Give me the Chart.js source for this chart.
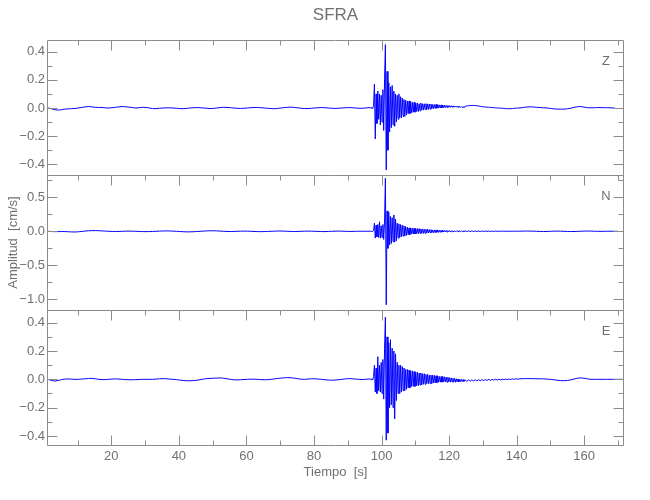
<!DOCTYPE html>
<html>
<head>
<meta charset="utf-8">
<script src="https://cdn.jsdelivr.net/npm/chart.js@4.4.1/dist/chart.umd.min.js"></script>
<style>
  html, body { margin: 0; padding: 0; background: #fff; }
  #lienzo { position: relative; width: 650px; height: 500px; }
  #lienzo canvas { position: absolute; left: 0; top: 0; }
</style>
</head>
<body>
<div id="lienzo">
  <canvas id="chartZ" width="650" height="500"></canvas>
  <canvas id="chartN" width="650" height="500"></canvas>
  <canvas id="chartE" width="650" height="500"></canvas>
</div>
<script>
// tramos de muestreo: inicio y paso (s) de cada bloque de valores
const tramos = [
  { inicio: 1.25, paso: 1 },     // ruido previo
  { inicio: 96.65, paso: 0.25 }, // llegada de ondas
  { inicio: 124.75, paso: 0.5 }, // coda
  { inicio: 141, paso: 1 }       // final
];

// componente Z (cm/s)
const zPre = [
  0, -0.005, -0.012, -0.015, -0.012, -0.008, -0.006, -0.005, -0.003, 0,
  0.004, 0.008, 0.01, 0.008, 0.005, 0.004, 0.003, 0.001, 0, 0.002,
  0.005, 0.008, 0.01, 0.009, 0.006, 0.003, 0, 0.002, 0.005, 0.004,
  0, -0.004, -0.005, -0.002, 0, 0.001, 0.001, 0, -0.002, -0.004,
  -0.005, -0.003, 0, 0.002, 0.003, 0.002, 0, -0.002, -0.004, -0.003,
  0, 0.003, 0.005, 0.004, 0.002, 0, -0.002, -0.003, -0.002, 0,
  0.002, 0.004, 0.004, 0.002, 0, -0.002, -0.004, -0.005, -0.003, 0,
  0.003, 0.005, 0.006, 0.004, 0.001, -0.002, -0.004, -0.004, -0.002, 0,
  0.002, 0.003, 0.002, 0, -0.002, -0.003, -0.002, 0, 0.002, 0.003,
  0.002, 0, -0.002, -0.002, 0
];
const zEvento = [
  0.003, -0.002, 0.004, -0.003, 0.02, 0.17, -0.22, 0.1,
  -0.11, 0.12, -0.08, 0.1, -0.12, 0.09, -0.1, 0.13,
  -0.16, 0.2, 0.45, -0.44, 0.26, -0.3, 0.18, -0.17,
  0.15, -0.14, 0.16, -0.12, 0.12, -0.13, 0.1, -0.1,
  0.09, -0.08, 0.1, -0.07, 0.08, -0.07, 0.07, -0.06,
  0.06, -0.06, 0.055, -0.05, 0.05, -0.04, 0.05, -0.04,
  0.045, -0.035, 0.04, -0.03, 0.04, -0.03, 0.035, -0.025,
  0.035, -0.025, 0.03, -0.02, 0.035, -0.015, 0.03, -0.015,
  0.03, -0.01, 0.03, -0.012, 0.03, -0.01, 0.028, -0.008,
  0.028, -0.005, 0.025, -0.005, 0.025, -0.003, 0.025, -0.002,
  0.024, 0, 0.022, 0, 0.022, 0.002, 0.02, 0.002,
  0.02, 0.003, 0.018, 0.004, 0.018, 0.005, 0.017, 0.005,
  0.016, 0.006, 0.015, 0.006, 0.014, 0.006, 0.013, 0.005,
  0.012, 0.005, 0.011, 0.004, 0.01, 0.004, 0.009, 0.003
];
const zCoda = [
  0.012, 0.014, 0.016, 0.017, 0.018, 0.018, 0.017, 0.016,
  0.014, 0.012, 0.01, 0.008, 0.007, 0.006, 0.005, 0.004,
  0.003, 0.002, 0.001, 0, 0, -0.001, -0.002, -0.003,
  -0.004, -0.005, -0.005, -0.005, -0.004, -0.003, -0.001, 0
];
const zCola = [
  0, 0.004, 0.007, 0.008, 0.007, 0.005, 0.003, 0.001, 0, -0.003,
  -0.006, -0.008, -0.008, -0.008, -0.006, -0.002, 0.004, 0.009, 0.01, 0.006,
  0.002, 0.001, 0.002, 0.003, 0.003, 0.002, 0.002, 0.001, 0
];

// componente N (cm/s)
const nPre = [
  0, -0.003, -0.005, -0.004, -0.003, -0.004, -0.006, -0.009, -0.01, -0.007,
  -0.002, 0.004, 0.008, 0.01, 0.01, 0.009, 0.006, 0.003, 0, -0.002,
  -0.003, -0.002, 0, 0.002, 0.003, 0.002, 0, -0.002, -0.004, -0.005,
  -0.004, -0.002, 0, 0.003, 0.005, 0.006, 0.005, 0.003, 0, -0.003,
  -0.006, -0.008, -0.008, -0.006, -0.003, 0, 0.003, 0.006, 0.008, 0.008,
  0.006, 0.003, 0, -0.002, -0.003, -0.002, 0, 0.002, 0.003, 0.002,
  0, -0.002, -0.004, -0.005, -0.004, -0.002, 0, 0.002, 0.004, 0.004,
  0.002, 0, -0.002, -0.003, -0.002, 0, 0.002, 0.003, 0.002, 0,
  -0.002, -0.004, -0.004, -0.002, 0, 0.002, 0.003, 0.002, 0, -0.002,
  -0.002, 0, 0.001, 0.001, 0
];
const nEvento = [
  0.002, -0.002, 0.003, -0.002, 0.01, 0.12, -0.1, 0.09,
  -0.08, 0.1, -0.09, 0.14, -0.1, 0.08, -0.09, 0.1,
  -0.12, 0.15, 0.78, -1.08, 0.3, -0.25, 0.28, -0.2,
  0.22, -0.18, 0.2, -0.15, 0.24, -0.16, 0.18, -0.14,
  0.12, -0.1, 0.11, -0.09, 0.1, -0.08, 0.09, -0.07,
  0.08, -0.07, 0.07, -0.06, 0.06, -0.05, 0.05, -0.05,
  0.05, -0.04, 0.045, -0.04, 0.045, -0.04, 0.04, -0.035,
  0.04, -0.035, 0.04, -0.03, 0.035, -0.03, 0.035, -0.03,
  0.03, -0.03, 0.03, -0.025, 0.03, -0.025, 0.025, -0.02,
  0.025, -0.02, 0.02, -0.02, 0.02, -0.02, 0.02, -0.015,
  0.02, -0.015, 0.015, -0.015, 0.015, -0.012, 0.015, -0.01,
  0.012, -0.01, 0.012, -0.01, 0.01, -0.008, 0.01, -0.008,
  0.01, -0.007, 0.008, -0.006, 0.008, -0.006, 0.007, -0.005,
  0.007, -0.005, 0.006, -0.004, 0.006, -0.004, 0.005, -0.004
];
const nCoda = [
  0.008, -0.005, 0.007, -0.004, 0.006, -0.004, 0.006, -0.003,
  0.005, -0.003, 0.005, -0.002, 0.004, -0.002, 0.004, -0.002,
  0.003, -0.001, 0.003, -0.001, 0.003, 0, 0.003, 0,
  0.002, 0, 0.002, 0, 0.002, 0.001, 0.002, 0.001
];
const nCola = [
  0.002, 0.003, 0.004, 0.003, 0.002, 0, -0.002, -0.003, -0.002, 0,
  0.002, 0.003, 0.002, 0, -0.002, -0.003, -0.003, -0.001, 0.001, 0.003,
  0.004, 0.003, 0.001, 0, -0.001, 0, 0.001, 0.001, 0, 0
];

// componente E (cm/s)
const ePre = [
  0, -0.008, -0.012, -0.008, -0.002, 0.002, 0.003, 0.001, 0, 0,
  0.002, 0.004, 0.006, 0.007, 0.004, 0, -0.002, -0.002, 0, 0.002,
  0.003, 0.002, 0, -0.002, -0.003, -0.003, -0.002, -0.001, 0, 0,
  0, 0, 0.002, 0.004, 0.005, 0.004, 0.002, 0, -0.002, -0.005,
  -0.008, -0.01, -0.01, -0.009, -0.007, -0.003, 0.002, 0.005, 0.007, 0.008,
  0.009, 0.01, 0.008, 0.004, 0, -0.003, -0.004, -0.003, -0.001, 0,
  0.001, 0.001, 0, -0.002, -0.003, -0.002, 0, 0.003, 0.006, 0.009,
  0.011, 0.012, 0.011, 0.008, 0.004, 0.001, 0, 0.002, 0.004, 0.004,
  0.002, 0, -0.003, -0.005, -0.006, -0.005, -0.003, 0, 0.003, 0.005,
  0.004, 0.002, 0, -0.001, 0
];
const eEvento = [
  0.003, -0.003, 0.004, -0.003, 0.02, 0.1, -0.09, 0.08,
  -0.1, 0.16, -0.08, 0.1, -0.09, 0.12, -0.1, 0.14,
  -0.14, 0.22, 0.44, -0.43, 0.3, -0.38, 0.26, -0.2,
  0.28, -0.18, 0.22, -0.2, 0.2, -0.28, 0.18, -0.15,
  0.12, -0.1, 0.1, -0.1, 0.1, -0.09, 0.09, -0.08,
  0.08, -0.08, 0.07, -0.07, 0.07, -0.06, 0.065, -0.06,
  0.06, -0.05, 0.06, -0.05, 0.055, -0.05, 0.05, -0.045,
  0.05, -0.045, 0.045, -0.04, 0.045, -0.04, 0.04, -0.035,
  0.04, -0.035, 0.035, -0.03, 0.035, -0.03, 0.03, -0.03,
  0.03, -0.03, 0.03, -0.025, 0.028, -0.025, 0.025, -0.025,
  0.025, -0.02, 0.02, -0.02, 0.02, -0.02, 0.02, -0.018,
  0.018, -0.018, 0.015, -0.02, 0.015, -0.018, 0.012, -0.02,
  0.01, -0.018, 0.008, -0.02, 0.006, -0.02, 0.004, -0.018,
  0.002, -0.018, 0, -0.016, 0, -0.016, -0.002, -0.015
];
const eCoda = [
  -0.004, -0.014, -0.004, -0.013, -0.003, -0.012, -0.003, -0.011,
  -0.002, -0.01, -0.002, -0.009, -0.001, -0.008, 0, -0.007,
  0, -0.006, 0.001, -0.005, 0.001, -0.004, 0.002, -0.003,
  0.002, -0.002, 0.003, -0.001, 0.003, 0, 0.004, 0.001
];
const eCola = [
  0.004, 0.005, 0.005, 0.005, 0.005, 0.004, 0.004, 0.003, 0.002, 0,
  -0.003, -0.006, -0.009, -0.01, -0.008, -0.004, 0.002, 0.008, 0.01, 0.008,
  0.003, 0, 0, 0, 0, 0, 0, 0, 0, 0, 0, 0
];

// marcas de los ejes
const xMayores = [20, 40, 60, 80, 100, 120, 140, 160];
const xMenores = [10, 30, 50, 70, 90, 110, 130, 150, 170];
const zMayores = [-0.4, -0.2, 0, 0.2, 0.4];
const zMenores = [-0.3, -0.1, 0.1, 0.3];
const nMayores = [-1.0, -0.5, 0, 0.5];
const nMenores = [-0.75, -0.25, 0.25, 0.75];

const gris = '#8c8c8c';
const texto = '#707070';
const fuente = "'Liberation Sans', Arial, sans-serif";
Chart.defaults.font.family = fuente;
Chart.defaults.font.size = 13;
Chart.defaults.color = texto;

const formato = v => v.toFixed(1).replace('-', '\u2212');

const puntos = bloques => bloques.flatMap((vals, k) =>
  vals.map((v, i) => ({ x: tramos[k].inicio + i * tramos[k].paso, y: v })));

// marco del panel, marcas hacia dentro y etiqueta del canal
const marco = {
  id: 'marco',
  afterDatasetsDraw(chart, args, o) {
    const { ctx, chartArea: a, scales: { x, y } } = chart;
    const L = Math.round(a.left) - 0.5, R = Math.round(a.right) + 0.5;
    const T = Math.round(a.top) + 0.5, B = Math.round(a.bottom) + 0.5;
    ctx.save();
    ctx.strokeStyle = gris;
    ctx.lineWidth = 1;
    ctx.beginPath();
    ctx.rect(L, T, R - L, B - T);
    const marcaY = (v, largo) => {
      const py = Math.round(y.getPixelForValue(v)) + 0.5;
      ctx.moveTo(L, py); ctx.lineTo(L + largo, py);
      ctx.moveTo(R, py); ctx.lineTo(R - largo, py);
    };
    o.yMenores.forEach(v => marcaY(v, 5));
    o.yMayores.forEach(v => marcaY(v, 10));
    const marcaX = (v, largo) => {
      const px = Math.round(x.getPixelForValue(v)) + 0.5;
      ctx.moveTo(px, T); ctx.lineTo(px, T + largo);
      if (o.abajo) { ctx.moveTo(px, B); ctx.lineTo(px, B - largo); }
    };
    xMenores.forEach(v => marcaX(v, 5));
    xMayores.forEach(v => marcaX(v, 10));
    ctx.stroke();

    ctx.fillStyle = texto;
    ctx.textAlign = 'center';
    ctx.textBaseline = 'middle';
    ctx.font = '13px ' + fuente;
    ctx.fillText(o.canal, a.right - 17, a.top + 21);
    if (o.titulo) {
      ctx.font = '17px ' + fuente;
      ctx.fillText(o.titulo, (a.left + a.right) / 2, 15);
    }
    ctx.restore();
  }
};

const panel = (id, cfg) => new Chart(document.getElementById(id), {
  type: 'line',
  data: {
    datasets: [{
      data: puntos(cfg.bloques),
      borderColor: '#0000ff',
      borderWidth: 1,
      pointRadius: 0,
      tension: 0
    }]
  },
  options: {
    responsive: false,
    animation: false,
    events: [],
    layout: { padding: { top: cfg.arriba, bottom: cfg.abajo, left: 0, right: 27 } },
    plugins: {
      legend: { display: false },
      tooltip: { enabled: false },
      marco: {
        canal: cfg.canal, titulo: cfg.titulo, abajo: cfg.ejeX,
        yMayores: cfg.yMayores, yMenores: cfg.yMenores
      }
    },
    scales: {
      x: {
        type: 'linear',
        min: 1.25,
        max: 171.5,
        display: cfg.ejeX,
        grid: { display: false, drawTicks: false },
        border: { display: false },
        afterBuildTicks: ax => { ax.ticks = xMayores.map(v => ({ value: v })); },
        ticks: { padding: 4, autoSkip: false, maxRotation: 0, callback: v => String(v) },
        title: { display: true, text: 'Tiempo  [s]', padding: { top: 0, bottom: 5 } },
        afterFit: cfg.ejeX ? s => { s.height = 40; } : undefined
      },
      y: {
        type: 'linear',
        min: cfg.yMin,
        max: cfg.yMax,
        grid: { display: false, drawTicks: false },
        border: { display: false },
        afterBuildTicks: ax => { ax.ticks = cfg.yMayores.map(v => ({ value: v })); },
        ticks: { padding: 3, autoSkip: false, callback: formato },
        title: { display: !!cfg.yTitulo, text: cfg.yTitulo || '', padding: { top: 6, bottom: 0 } },
        afterFit: s => { s.width = 48; }
      }
    }
  },
  plugins: [marco]
});

panel('chartZ', {
  bloques: [zPre, zEvento, zCoda, zCola], canal: 'Z', titulo: 'SFRA',
  arriba: 40, abajo: 325, ejeX: false,
  yMin: -0.476, yMax: 0.483, yMayores: zMayores, yMenores: zMenores
});
panel('chartN', {
  bloques: [nPre, nEvento, nCoda, nCola], canal: 'N', yTitulo: 'Amplitud  [cm/s]',
  arriba: 175, abajo: 190, ejeX: false,
  yMin: -1.157, yMax: 0.828, yMayores: nMayores, yMenores: nMenores
});
panel('chartE', {
  bloques: [ePre, eEvento, eCoda, eCola], canal: 'E',
  arriba: 310, abajo: 15, ejeX: true,
  yMin: -0.464, yMax: 0.49, yMayores: zMayores, yMenores: zMenores
});
</script>
</body>
</html>
